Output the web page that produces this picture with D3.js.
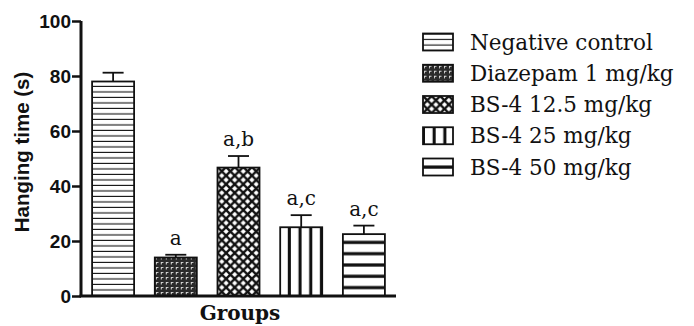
<!DOCTYPE html>
<html>
<head>
<meta charset="utf-8">
<script src="https://cdn.jsdelivr.net/npm/d3@7"></script>
<style>
  html, body { margin: 0; padding: 0; background: #fff; }
  svg { display: block; }
</style>
</head>
<body>
<svg id="chart" width="694" height="326"></svg>
<script>
// Group names, mean hanging times, SEM and significance letters
const groups = ["Negative control", "Diazepam 1 mg/kg", "BS-4 12.5 mg/kg", "BS-4 25 mg/kg", "BS-4 50 mg/kg"];
const means = [78, 14, 46.7, 25, 22.5];
const sems = [3.2, 1, 4.2, 4.4, 3.1];
const marks = ["", "a", "a,b", "a,c", "a,c"];
const fills = ["hlines", "dots", "cross", "vstripes", "hstripes"];
const yTicks = [0, 20, 40, 60, 80, 100];

const svg = d3.select("#chart");
const defs = svg.append("defs");

const x = d3.scaleBand().domain(groups).range([81, 396]).paddingInner(0.33).paddingOuter(0.177);
const y = d3.scaleLinear().domain([0, 100]).range([296, 21]);

// Fill patterns anchored at a given origin so stripes line up with each shape
function makePattern(id, kind, x0, y0) {
  let p;
  if (kind === "hlines") {
    p = defs.append("pattern").attr("id", id).attr("patternUnits", "userSpaceOnUse")
      .attr("x", x0).attr("y", y0).attr("width", 10).attr("height", 5.5);
    p.append("rect").attr("width", 10).attr("height", 5.5).attr("fill", "#fff");
    p.append("rect").attr("y", 4.4).attr("width", 10).attr("height", 1.2).attr("fill", "#111");
  } else if (kind === "dots") {
    p = defs.append("pattern").attr("id", id).attr("patternUnits", "userSpaceOnUse")
      .attr("x", x0).attr("y", y0).attr("width", 5).attr("height", 5);
    p.append("rect").attr("width", 5).attr("height", 5).attr("fill", "#2a2a2a");
    p.append("rect").attr("x", 1).attr("y", 1).attr("width", 2.5).attr("height", 1).attr("fill", "#d8d8d8");
    p.append("rect").attr("x", 1).attr("y", 1).attr("width", 1).attr("height", 2.5).attr("fill", "#d8d8d8");
  } else if (kind === "cross") {
    const s = 8.6;
    p = defs.append("pattern").attr("id", id).attr("patternUnits", "userSpaceOnUse")
      .attr("x", x0).attr("y", y0).attr("width", s).attr("height", s);
    p.append("rect").attr("width", s).attr("height", s).attr("fill", "#fff");
    p.append("path")
      .attr("d", `M-1,-1L${s + 1},${s + 1}M${s + 1},-1L-1,${s + 1}`)
      .attr("stroke", "#111").attr("stroke-width", 2.4).attr("fill", "none");
  } else if (kind === "vstripes") {
    p = defs.append("pattern").attr("id", id).attr("patternUnits", "userSpaceOnUse")
      .attr("x", x0).attr("y", y0).attr("width", 10.7).attr("height", 10);
    p.append("rect").attr("width", 10.7).attr("height", 10).attr("fill", "#fff");
    p.append("rect").attr("x", 7.6).attr("width", 3.2).attr("height", 10).attr("fill", "#111");
  } else if (kind === "hstripes") {
    p = defs.append("pattern").attr("id", id).attr("patternUnits", "userSpaceOnUse")
      .attr("x", x0).attr("y", y0).attr("width", 10).attr("height", 11.3);
    p.append("rect").attr("width", 10).attr("height", 11.3).attr("fill", "#fff");
    p.append("rect").attr("y", 1.3).attr("width", 10).attr("height", 3.2).attr("fill", "#111");
  }
}

groups.forEach((g, i) => makePattern("bar" + i, fills[i], x(g), y(0)));

// Bars
svg.append("g").selectAll("rect").data(groups).join("rect")
  .attr("x", g => x(g))
  .attr("y", (g, i) => y(means[i]))
  .attr("width", x.bandwidth())
  .attr("height", (g, i) => y(0) - y(means[i]))
  .attr("fill", (g, i) => `url(#bar${i})`)
  .attr("stroke", "#111").attr("stroke-width", 1.8);

// Upper error bars
const err = svg.append("g").attr("stroke", "#111").attr("stroke-width", 1.8);
groups.forEach((g, i) => {
  const cx = x(g) + x.bandwidth() / 2;
  const top = y(means[i] + sems[i]);
  err.append("line").attr("x1", cx).attr("x2", cx).attr("y1", y(means[i])).attr("y2", top);
  err.append("line").attr("x1", cx - x.bandwidth() / 4).attr("x2", cx + x.bandwidth() / 4).attr("y1", top).attr("y2", top);
});

// Significance letters
svg.append("g").selectAll("text").data(groups).join("text")
  .attr("x", g => x(g) + x.bandwidth() / 2)
  .attr("y", (g, i) => y(means[i] + sems[i]) - 10)
  .attr("text-anchor", "middle")
  .attr("font-family", "DejaVu Serif")
  .attr("font-size", 20)
  .attr("fill", "#111")
  .text((g, i) => marks[i]);

// Y axis
const yAxis = svg.append("g").attr("transform", "translate(81,0)")
  .call(d3.axisLeft(y).tickValues(yTicks).tickSize(9).tickPadding(1));
yAxis.select(".domain").attr("stroke", "#111").attr("stroke-width", 3).attr("d", `M0,${y(100)}V${y(0)}`);
yAxis.selectAll(".tick line").attr("stroke", "#111").attr("stroke-width", 2.5);
yAxis.selectAll(".tick text").attr("font-family", "Liberation Sans, Arial, sans-serif")
  .attr("font-weight", "bold").attr("font-size", 19).attr("fill", "#111");

// X axis baseline
svg.append("line").attr("x1", 79.5).attr("x2", 396).attr("y1", y(0)).attr("y2", y(0))
  .attr("stroke", "#111").attr("stroke-width", 3);

// Axis titles
svg.append("text")
  .attr("transform", "translate(29,152) rotate(-90)")
  .attr("text-anchor", "middle")
  .attr("font-family", "Liberation Sans, Arial, sans-serif")
  .attr("font-weight", "bold").attr("font-size", 20.5).attr("fill", "#111")
  .text("Hanging time (s)");

svg.append("text")
  .attr("x", 240).attr("y", 320)
  .attr("text-anchor", "middle")
  .attr("font-family", "DejaVu Serif")
  .attr("font-weight", "bold").attr("font-size", 20).attr("fill", "#111")
  .text("Groups");

// Legend: swatch pattern phases chosen so each small box shows its motif centred
const legendY = d3.scalePoint().domain(groups).range([42, 167]);
const swatchPhase = { hlines: [0, 1.1], dots: [0, 0], cross: [0, 0], vstripes: [2, 0], hstripes: [0, 5.7] };
groups.forEach((g, i) => {
  const ph = swatchPhase[fills[i]];
  makePattern("leg" + i, fills[i], 423 + ph[0], legendY(g) - 8.5 + ph[1]);
});
const legend = svg.append("g");
legend.selectAll("rect").data(groups).join("rect")
  .attr("x", 423).attr("y", g => legendY(g) - 8.5)
  .attr("width", 30).attr("height", 17)
  .attr("fill", (g, i) => `url(#leg${i})`)
  .attr("stroke", "#111").attr("stroke-width", 1.8);
legend.selectAll("text").data(groups).join("text")
  .attr("x", 470).attr("y", g => legendY(g) + 7.5)
  .attr("font-family", "DejaVu Serif")
  .attr("font-size", 21.5).attr("fill", "#111")
  .text(g => g);
</script>
</body>
</html>
